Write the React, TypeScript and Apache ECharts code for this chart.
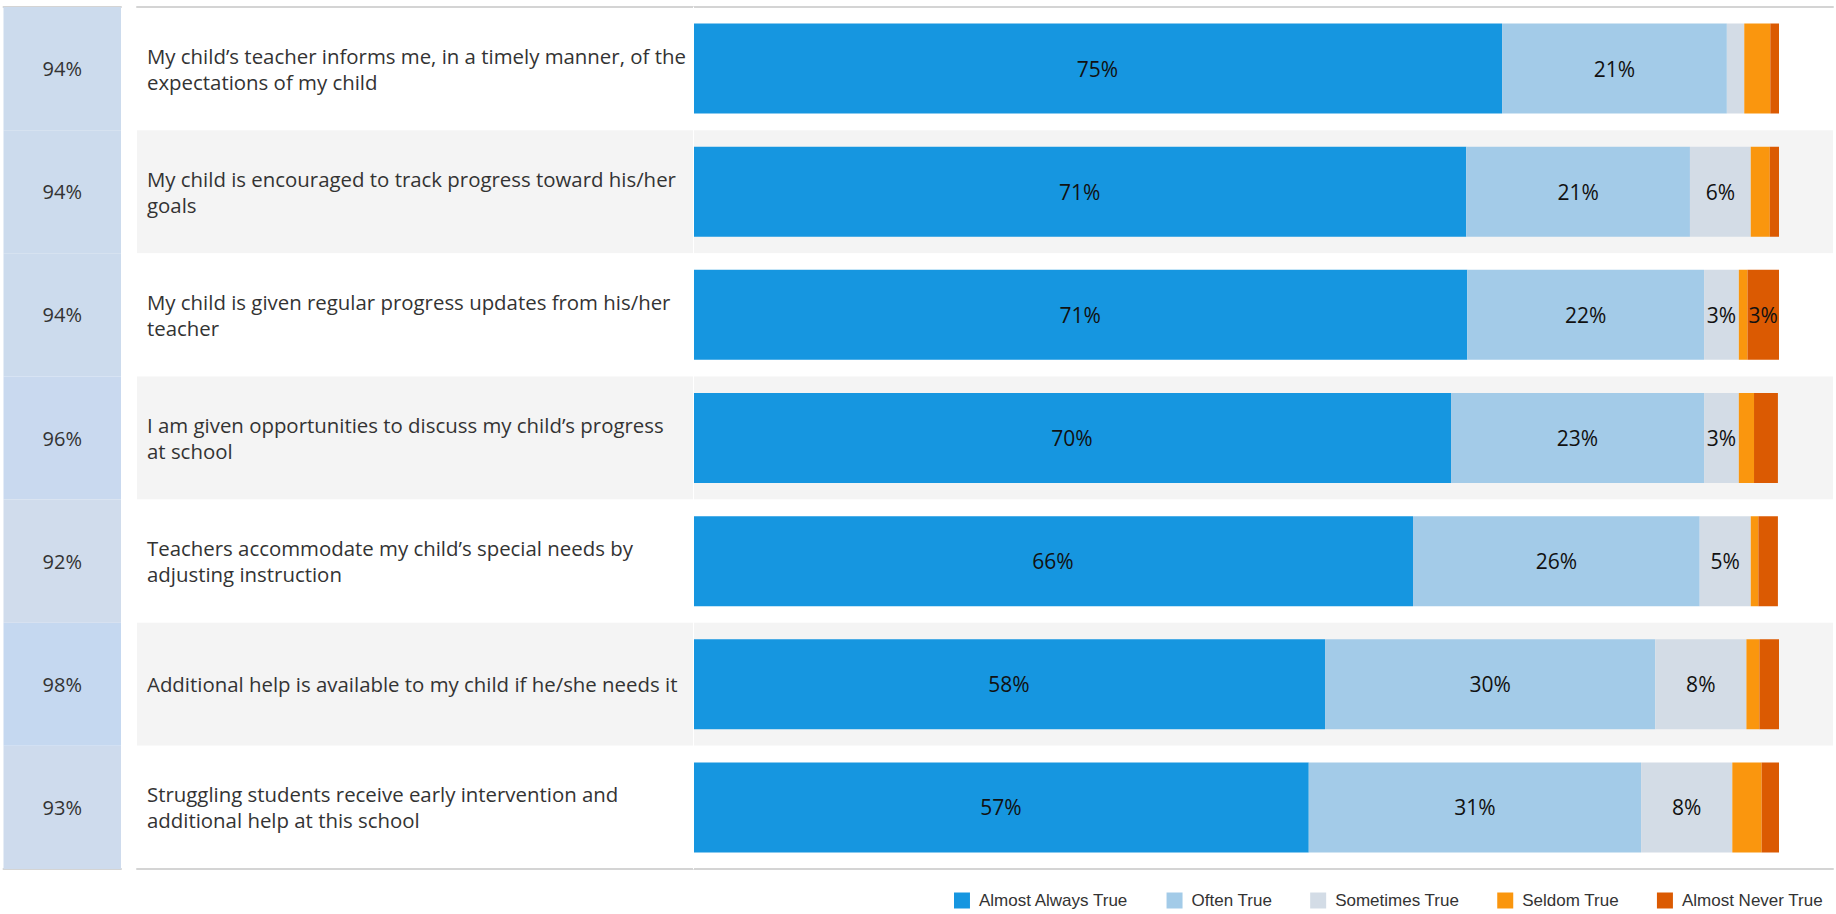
import React, { useEffect, useRef } from "react";
import * as echarts from "echarts";

const categories = [
  "My child’s teacher informs me, in a timely manner, of the\nexpectations of my child",
  "My child is encouraged to track progress toward his/her\ngoals",
  "My child is given regular progress updates from his/her\nteacher",
  "I am given opportunities to discuss my child’s progress\nat school",
  "Teachers accommodate my child’s special needs by\nadjusting instruction",
  "Additional help is available to my child if he/she needs it",
  "Struggling students receive early intervention and\nadditional help at this school",
];
const favorable = [94, 94, 94, 96, 92, 98, 93];
const almostAlways = [74.5, 71.2, 71.3, 69.8, 66.3, 58.2, 56.7];
const often = [20.7, 20.6, 21.8, 23.3, 26.4, 30.4, 30.6];
const sometimes = [1.6, 5.6, 3.2, 3.2, 4.7, 8.4, 8.4];
const seldom = [2.4, 1.75, 0.8, 1.4, 0.7, 1.2, 2.7];
const almostNever = [0.8, 0.85, 2.9, 2.2, 1.8, 1.8, 1.6];
const seriesNames = ["Almost Always True", "Often True", "Sometimes True", "Seldom True", "Almost Never True"];
const seriesColors = ["#1696e0", "#a3cbe8", "#d3dce6", "#fa960e", "#db5a02"];

function shade(v: number) {
  const t = Math.max(0, Math.min(1, (v - 92) / 6));
  const a = [0xd0, 0xdc, 0xec];
  const b = [0xc5, 0xd8, 0xf0];
  const c = a.map((x, i) => Math.round(x + (b[i] - x) * t));
  return `rgb(${c[0]},${c[1]},${c[2]})`;
}

export default function App() {
  const ref = useRef<HTMLDivElement>(null);
  useEffect(() => {
    const chart = echarts.init(ref.current!, null, { renderer: "svg" });
    const font = "'Open Sans', sans-serif";
    const gridTop = 7;
    const gridH = 862;
    const lineAxis = (gi: number, pos: string) => ({
      type: "value",
      gridIndex: gi,
      position: pos,
      min: 0,
      max: 1,
      axisLine: { show: true, lineStyle: { color: "#d4d4d4", width: 2 } },
      axisTick: { show: false },
      axisLabel: { show: false },
      splitLine: { show: false },
    });
    const stacks = [almostAlways, often, sometimes, seldom, almostNever];
    chart.setOption({
      animation: false,
      legend: {
        data: seriesNames,
        right: 8,
        top: 887,
        itemWidth: 16,
        itemHeight: 16,
        itemGap: 38,
        icon: "rect",
        textStyle: { fontSize: 17, color: "#333", fontFamily: "'Liberation Sans', Arial, sans-serif", padding: [0, 0, 0, 4] },
      },
      grid: [
        { left: 693, right: 57, top: gridTop, height: gridH },
        { left: 137, right: 3, top: gridTop, height: gridH },
        { left: 3.5, width: 117.5, top: gridTop, height: gridH },
      ],
      xAxis: [
        { type: "value", gridIndex: 0, min: 0, max: 100, show: false },
        lineAxis(1, "bottom"),
        lineAxis(1, "top"),
        lineAxis(2, "bottom"),
        lineAxis(2, "top"),
      ],
      yAxis: [
        {
          type: "category",
          gridIndex: 0,
          data: categories,
          inverse: true,
          z: 3,
          axisLine: { show: true, lineStyle: { color: "#ffffff", width: 1 } },
          axisTick: { show: false },
          axisLabel: { show: false },
        },
        {
          type: "category",
          gridIndex: 1,
          data: categories,
          inverse: true,
          axisLine: { show: false },
          axisTick: { show: false },
          splitArea: { show: true, areaStyle: { color: ["#ffffff", "#f4f4f4"] } },
          axisLabel: {
            inside: true,
            margin: 10,
            align: "left",
            fontSize: 20.4,
            lineHeight: 26,
            color: "#333",
            fontFamily: font,
          },
        },
        {
          type: "category",
          gridIndex: 2,
          data: favorable.map((v) => v + "%"),
          inverse: true,
          axisLine: { show: false },
          axisTick: { show: false },
          axisLabel: { show: false },
        },
      ],
      series: [
        ...stacks.map((d, i) => ({
          type: "bar",
          name: seriesNames[i],
          stack: "total",
          xAxisIndex: 0,
          yAxisIndex: 0,
          barWidth: 90,
          data: d,
          itemStyle: { color: seriesColors[i] },
          label: {
            show: true,
            position: "inside",
            fontSize: 21,
            color: "#111",
            fontFamily: font,
            formatter: (p: any) => (p.value >= 2.85 ? Math.round(p.value) + "%" : ""),
          },
        })),
        {
          type: "bar",
          name: "Favorable",
          xAxisIndex: 3,
          yAxisIndex: 2,
          barWidth: "100%",
          data: favorable.map((v) => ({ value: 1, itemStyle: { color: shade(v) } })),
          label: {
            show: true,
            position: "inside",
            fontSize: 20,
            color: "#333",
            fontFamily: font,
            formatter: (p: any) => favorable[p.dataIndex] + "%",
          },
          z: 1,
        },
      ],
    });
    return () => chart.dispose();
  }, []);
  return (
    <div
      ref={ref}
      style={{ position: "fixed", left: 0, top: 0, width: 1836, height: 914, background: "#fff" }}
    />
  );
}
